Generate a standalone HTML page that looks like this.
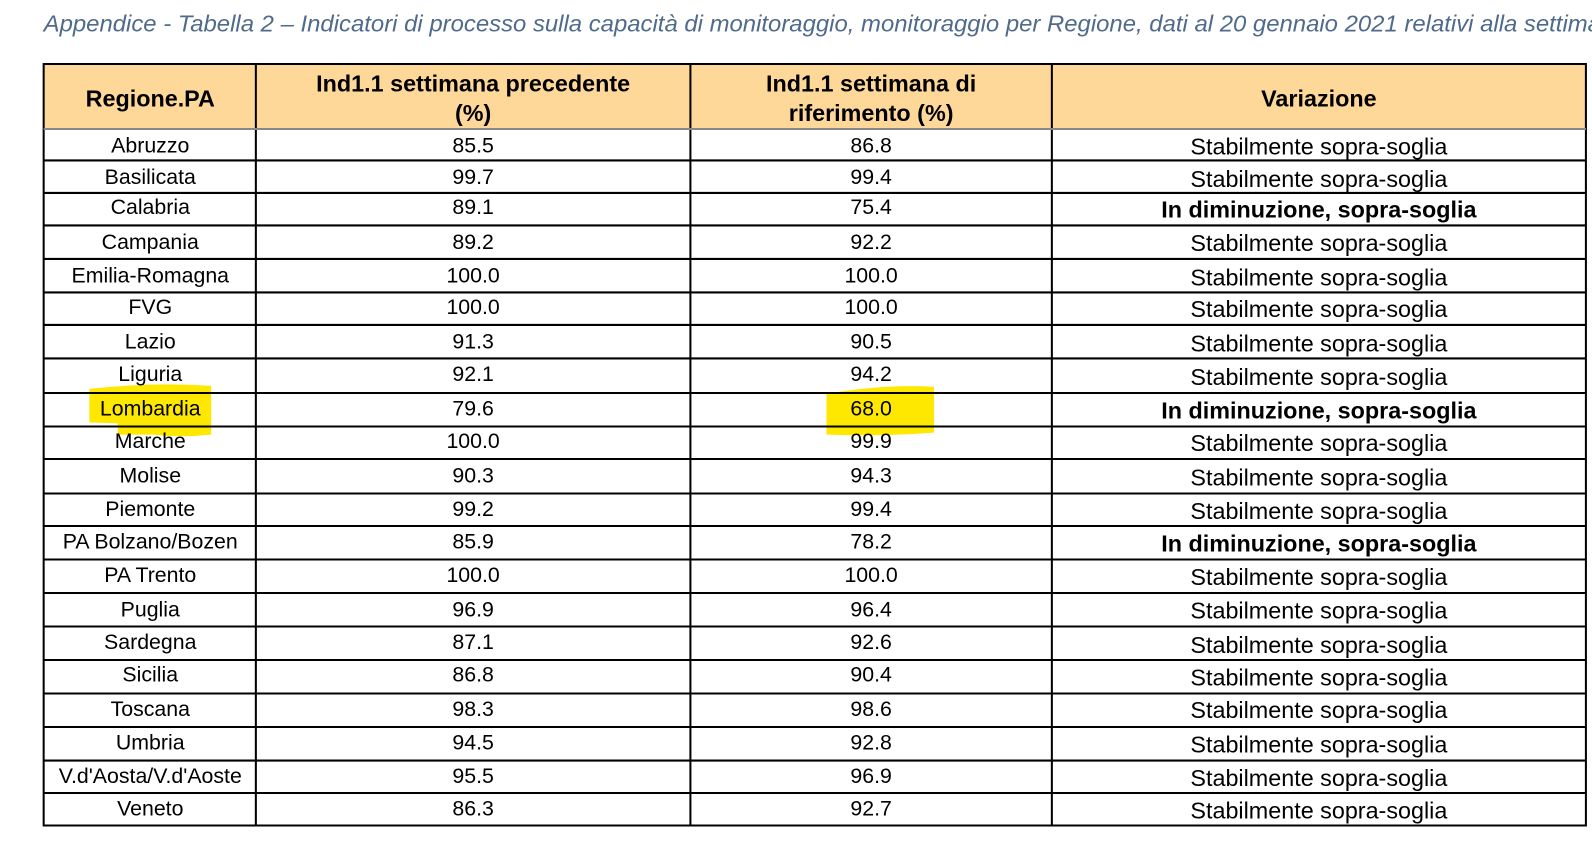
<!DOCTYPE html>
<html><head><meta charset="utf-8"><style>
html,body{margin:0;padding:0;background:#fff;width:1592px;height:856px;overflow:hidden}
svg{display:block}
text{font-family:"Liberation Sans",sans-serif}
</style></head><body>
<svg width="1592" height="856" viewBox="0 0 1568 843" preserveAspectRatio="none" xmlns="http://www.w3.org/2000/svg">
<text x="43" y="31" font-size="23" font-style="italic" fill="#4f6a8a" textLength="1560" lengthAdjust="spacingAndGlyphs">Appendice - Tabella 2 – Indicatori di processo sulla capacità di monitoraggio, monitoraggio per Regione, dati al 20 gennaio 2021 relativi alla settimana</text>
<rect x="43" y="63" width="1519" height="64" fill="#fed898"/>
<path d="M88 383 Q150 376 208 380 L208 428 Q180 431 150 428 L116 428 L116 417 L88 416 Z" fill="#ffe800"/>
<path d="M814 388 Q870 378 920 381 L920 426 Q870 430 814 428 Z" fill="#ffe800"/>
<g stroke="#000" stroke-width="2">
<line x1="43" y1="63" x2="1562" y2="63"/>
<line x1="43" y1="813" x2="1562" y2="813"/>
<line x1="43" y1="62" x2="43" y2="814"/>
<line x1="252" y1="62" x2="252" y2="814"/>
<line x1="680" y1="62" x2="680" y2="814"/>
<line x1="1036" y1="62" x2="1036" y2="814"/>
<line x1="1562" y1="62" x2="1562" y2="814"/>
</g>
<line x1="43" y1="127" x2="1562" y2="127" stroke="#888" stroke-width="2"/>
<g stroke="#000" stroke-width="2">
<line x1="43" y1="158" x2="1562" y2="158"/><line x1="43" y1="190" x2="1562" y2="190"/>
<line x1="43" y1="222" x2="1562" y2="222"/><line x1="43" y1="255" x2="1562" y2="255"/>
<line x1="43" y1="288" x2="1562" y2="288"/><line x1="43" y1="320" x2="1562" y2="320"/>
<line x1="43" y1="353" x2="1562" y2="353"/><line x1="43" y1="387" x2="1562" y2="387"/>
<line x1="43" y1="420" x2="1562" y2="420"/><line x1="43" y1="452" x2="1562" y2="452"/>
<line x1="43" y1="486" x2="1562" y2="486"/><line x1="43" y1="518" x2="1562" y2="518"/>
<line x1="43" y1="551" x2="1562" y2="551"/><line x1="43" y1="584" x2="1562" y2="584"/>
<line x1="43" y1="617" x2="1562" y2="617"/><line x1="43" y1="650" x2="1562" y2="650"/>
<line x1="43" y1="683" x2="1562" y2="683"/><line x1="43" y1="716" x2="1562" y2="716"/>
<line x1="43" y1="749" x2="1562" y2="749"/><line x1="43" y1="781" x2="1562" y2="781"/>
</g>
<g font-size="23" font-weight="bold" text-anchor="middle" fill="#000">
<text x="148" y="105">Regione.PA</text>
<text x="466" y="90">Ind1.1 settimana precedente</text>
<text x="466" y="119">(%)</text>
<text x="858" y="90">Ind1.1 settimana di</text>
<text x="858" y="119">riferimento (%)</text>
<text x="1299" y="105">Variazione</text>
</g>
<g font-size="21" text-anchor="middle" fill="#000">
<text x="148" y="150">Abruzzo</text><text x="466" y="150">85.5</text><text x="858" y="150">86.8</text>
<text x="148" y="181">Basilicata</text><text x="466" y="181">99.7</text><text x="858" y="181">99.4</text>
<text x="148" y="211">Calabria</text><text x="466" y="211">89.1</text><text x="858" y="211">75.4</text>
<text x="148" y="245">Campania</text><text x="466" y="245">89.2</text><text x="858" y="245">92.2</text>
<text x="148" y="278">Emilia-Romagna</text><text x="466" y="278">100.0</text><text x="858" y="278">100.0</text>
<text x="148" y="309">FVG</text><text x="466" y="309">100.0</text><text x="858" y="309">100.0</text>
<text x="148" y="343">Lazio</text><text x="466" y="343">91.3</text><text x="858" y="343">90.5</text>
<text x="148" y="375">Liguria</text><text x="466" y="375">92.1</text><text x="858" y="375">94.2</text>
<text x="148" y="409">Lombardia</text><text x="466" y="409">79.6</text><text x="858" y="409">68.0</text>
<text x="148" y="441">Marche</text><text x="466" y="441">100.0</text><text x="858" y="441">99.9</text>
<text x="148" y="475">Molise</text><text x="466" y="475">90.3</text><text x="858" y="475">94.3</text>
<text x="148" y="508">Piemonte</text><text x="466" y="508">99.2</text><text x="858" y="508">99.4</text>
<text x="148" y="540">PA Bolzano/Bozen</text><text x="466" y="540">85.9</text><text x="858" y="540">78.2</text>
<text x="148" y="573">PA Trento</text><text x="466" y="573">100.0</text><text x="858" y="573">100.0</text>
<text x="148" y="607">Puglia</text><text x="466" y="607">96.9</text><text x="858" y="607">96.4</text>
<text x="148" y="639">Sardegna</text><text x="466" y="639">87.1</text><text x="858" y="639">92.6</text>
<text x="148" y="671">Sicilia</text><text x="466" y="671">86.8</text><text x="858" y="671">90.4</text>
<text x="148" y="705">Toscana</text><text x="466" y="705">98.3</text><text x="858" y="705">98.6</text>
<text x="148" y="738">Umbria</text><text x="466" y="738">94.5</text><text x="858" y="738">92.8</text>
<text x="148" y="771">V.d'Aosta/V.d'Aoste</text><text x="466" y="771">95.5</text><text x="858" y="771">96.9</text>
<text x="148" y="803">Veneto</text><text x="466" y="803">86.3</text><text x="858" y="803">92.7</text>
</g>
<g font-size="23" text-anchor="middle" fill="#000">
<text x="1299" y="152">Stabilmente sopra-soglia</text>
<text x="1299" y="184">Stabilmente sopra-soglia</text>
<text x="1299" y="214" font-weight="bold">In diminuzione, sopra-soglia</text>
<text x="1299" y="247">Stabilmente sopra-soglia</text>
<text x="1299" y="281">Stabilmente sopra-soglia</text>
<text x="1299" y="312">Stabilmente sopra-soglia</text>
<text x="1299" y="346">Stabilmente sopra-soglia</text>
<text x="1299" y="379">Stabilmente sopra-soglia</text>
<text x="1299" y="412" font-weight="bold">In diminuzione, sopra-soglia</text>
<text x="1299" y="444">Stabilmente sopra-soglia</text>
<text x="1299" y="478">Stabilmente sopra-soglia</text>
<text x="1299" y="511">Stabilmente sopra-soglia</text>
<text x="1299" y="543" font-weight="bold">In diminuzione, sopra-soglia</text>
<text x="1299" y="576">Stabilmente sopra-soglia</text>
<text x="1299" y="609">Stabilmente sopra-soglia</text>
<text x="1299" y="643">Stabilmente sopra-soglia</text>
<text x="1299" y="675">Stabilmente sopra-soglia</text>
<text x="1299" y="707">Stabilmente sopra-soglia</text>
<text x="1299" y="741">Stabilmente sopra-soglia</text>
<text x="1299" y="774">Stabilmente sopra-soglia</text>
<text x="1299" y="806">Stabilmente sopra-soglia</text>
</g>
</svg>
</body></html>
